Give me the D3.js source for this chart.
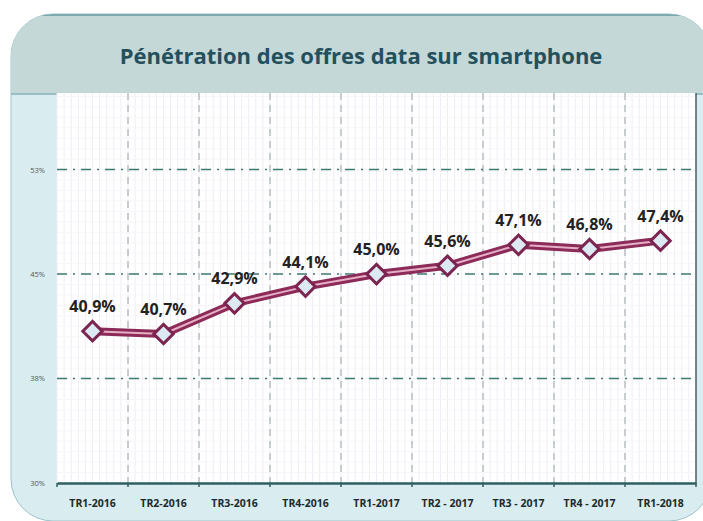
<!DOCTYPE html>
<html>
<head>
<meta charset="utf-8">
<script src="https://cdn.jsdelivr.net/npm/d3@7"></script>
<style>
  html, body { margin: 0; padding: 0; background: #fff; }
  svg { display: block; }
</style>
</head>
<body>
<svg id="chart" width="703" height="521"></svg>
<script>
// données
const trimestres = ['TR1-2016', 'TR2-2016', 'TR3-2016', 'TR4-2016', 'TR1-2017', 'TR2 - 2017', 'TR3 - 2017', 'TR4 - 2017', 'TR1-2018']
const penetration = [40.9, 40.7, 42.9, 44.1, 45.0, 45.6, 47.1, 46.8, 47.4]
const yTicks = [30, 37.5, 45, 52.5]
const titre = 'Pénétration des offres data sur smartphone'

const svg = d3.select('#chart')
const plot = { left: 57, right: 696, top: 93, bottom: 483 }

// cadre arrondi
svg.append('rect')
  .attr('x', 11).attr('y', 14).attr('width', 700).attr('height', 507)
  .attr('rx', 42).attr('fill', '#d9edf1').attr('stroke', '#9cc3c9').attr('stroke-width', 1)

// bandeau titre
const clip = svg.append('clipPath').attr('id', 'frame')
clip.append('rect').attr('x', 11).attr('y', 14).attr('width', 700).attr('height', 507).attr('rx', 42)
const head = svg.append('g').attr('clip-path', 'url(#frame)')
head.append('rect').attr('x', 11).attr('y', 14).attr('width', 700).attr('height', 81).attr('fill', '#c4d8d8')
head.append('line').attr('x1', 11).attr('x2', 711).attr('y1', 15).attr('y2', 15).attr('stroke', '#7fa9b0').attr('stroke-width', 2)
head.append('line').attr('x1', 11).attr('x2', 711).attr('y1', 94).attr('y2', 94).attr('stroke', '#8bb4bc').attr('stroke-width', 1.5)

svg.append('text')
  .attr('x', 361).attr('y', 64)
  .attr('text-anchor', 'middle')
  .attr('font-family', 'Open Sans, sans-serif')
  .attr('font-weight', 700)
  .attr('font-size', 22)
  .attr('fill', '#23505c')
  .text(titre)

// échelles
const x = d3.scaleBand().domain(trimestres).range([plot.left, plot.right])
const y = d3.scaleLinear().domain([30, 58]).range([plot.bottom, plot.top])

// zone de tracé
svg.append('rect')
  .attr('x', plot.left).attr('y', plot.top)
  .attr('width', plot.right - plot.left).attr('height', plot.bottom - plot.top)
  .attr('fill', '#fff')

// grille fine
const minorX = d3.range(plot.left, plot.right, x.bandwidth() / 10)
svg.append('g').selectAll('line').data(minorX).join('line')
  .attr('x1', d => d).attr('x2', d => d)
  .attr('y1', plot.top).attr('y2', plot.bottom)
  .attr('stroke', '#eeedf4').attr('stroke-width', 1)
const minorY = d3.range(30, 58, 0.75)
svg.append('g').selectAll('line').data(minorY).join('line')
  .attr('x1', plot.left).attr('x2', plot.right)
  .attr('y1', d => y(d)).attr('y2', d => y(d))
  .attr('stroke', '#f7f5f9').attr('stroke-width', 1)

// séparateurs verticaux pointillés
const bornes = trimestres.slice(1).map(d => x(d))
svg.append('g').selectAll('line').data(bornes).join('line')
  .attr('x1', d => d).attr('x2', d => d)
  .attr('y1', plot.top).attr('y2', plot.bottom)
  .attr('stroke', '#98a4a4').attr('stroke-width', 1)
  .attr('stroke-dasharray', '7,5')

// grille principale horizontale (tiret-point)
svg.append('g').selectAll('line').data(yTicks.slice(1)).join('line')
  .attr('x1', plot.left).attr('x2', plot.right)
  .attr('y1', d => y(d)).attr('y2', d => y(d))
  .attr('stroke', '#3f7a70').attr('stroke-width', 1.5)
  .attr('stroke-dasharray', '10,6,2,6')

// bord droit
svg.append('line')
  .attr('x1', plot.right).attr('x2', plot.right)
  .attr('y1', plot.top).attr('y2', plot.bottom)
  .attr('stroke', '#4a5e62').attr('stroke-width', 1.5)

// axe Y
const yAxis = svg.append('g')
  .attr('transform', `translate(${plot.left},0)`)
  .call(d3.axisLeft(y).tickValues(yTicks).tickSize(0).tickPadding(12).tickFormat(d => Math.round(d) + '%'))
yAxis.select('.domain').remove()
yAxis.selectAll('text')
  .attr('font-family', 'Open Sans, sans-serif')
  .attr('font-size', 7.5)
  .attr('fill', '#555')

// axe X
const xAxis = svg.append('g')
  .attr('transform', `translate(0,${plot.bottom})`)
  .call(d3.axisBottom(x).tickSize(0).tickPadding(17))
xAxis.select('.domain').attr('stroke', '#2f5f60').attr('stroke-width', 2.5)
xAxis.selectAll('text')
  .attr('font-family', 'Open Sans, sans-serif')
  .attr('font-weight', 700)
  .attr('font-size', 10.5)
  .attr('fill', '#1c2a2c')
svg.append('g').selectAll('line').data(bornes.concat([plot.left, plot.right])).join('line')
  .attr('x1', d => d).attr('x2', d => d)
  .attr('y1', plot.bottom).attr('y2', plot.bottom + 4)
  .attr('stroke', '#2f5f60').attr('stroke-width', 1.5)

// courbe
const pts = trimestres.map((t, i) => [x(t) + x.bandwidth() / 2, y(penetration[i])])
const line = d3.line()
svg.append('path').attr('d', line(pts))
  .attr('fill', 'none').attr('stroke', '#8c2b58').attr('stroke-width', 8).attr('stroke-linejoin', 'round')
svg.append('path').attr('d', line(pts))
  .attr('fill', 'none').attr('stroke', '#e6afc6').attr('stroke-width', 2).attr('stroke-linejoin', 'round')

// marqueurs losange
svg.append('g').selectAll('path').data(pts).join('path')
  .attr('d', d3.symbol().type(d3.symbolSquare2).size(240))
  .attr('transform', d => `translate(${d[0]},${d[1]}) rotate(45)`)
  .attr('fill', '#dce8f2').attr('stroke', '#7c2550').attr('stroke-width', 3)

// étiquettes
svg.append('g').selectAll('text').data(pts).join('text')
  .attr('x', d => d[0]).attr('y', d => d[1] - 19)
  .attr('text-anchor', 'middle')
  .attr('font-family', 'Open Sans, sans-serif')
  .attr('font-weight', 700)
  .attr('font-size', 16)
  .attr('fill', '#222')
  .text((d, i) => penetration[i].toFixed(1).replace('.', ',') + '%')
</script>
</body>
</html>
